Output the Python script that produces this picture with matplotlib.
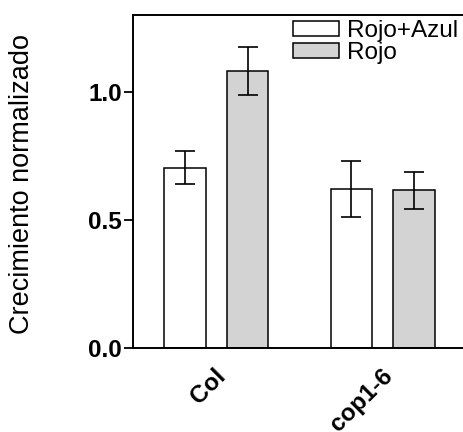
import numpy as np
import matplotlib
matplotlib.use('Agg')
import matplotlib.pyplot as plt
import matplotlib.transforms as mtransforms

plt.rcParams['font.family'] = ['Liberation Sans', 'DejaVu Sans']

#data
genotypes = ['Col', 'cop1-6']
series = ['Rojo+Azul', 'Rojo']
rojo_azul = [0.705, 0.620]
rojo_azul_err = [0.066, 0.110]
rojo = [1.083, 0.616]
rojo_err = [0.095, 0.073]
colors = ['white', '#d3d3d3']

fig = plt.figure(figsize=(4.64, 4.32), dpi=100)
#axes runs slightly past the right edge, as in the original crop
ax = fig.add_axes([133.3/464, 1-348/432, (465.7-133.3)/464, (348-15.3)/432])

x = np.arange(len(genotypes))
w = 0.25
off = 0.1875
ekw = dict(elinewidth=1.2, capthick=1.2, ecolor='black')
ax.bar(x-off, rojo_azul, w, yerr=rojo_azul_err, capsize=7.5, color=colors[0],
       edgecolor='black', linewidth=1.1, error_kw=ekw, label=series[0])
ax.bar(x+off, rojo, w, yerr=rojo_err, capsize=7.5, color=colors[1],
       edgecolor='black', linewidth=1.1, error_kw=ekw, label=series[1])

ax.set_xlim(-0.5, 1.5)
ax.set_ylim(0, 1.3)
ax.set_yticks([0.0, 0.5, 1.0])
ax.set_yticklabels(['0.0', '0.5', '1.0'], fontsize=17.5, fontweight='bold')
ax.tick_params(axis='y', length=6.5, width=1.3, pad=1.5)
ax.tick_params(axis='x', length=0, pad=12)
ax.set_xticks(x)
ax.set_xticklabels(genotypes, fontsize=17.5, fontweight='bold',
                   rotation=45, ha='right', va='top', rotation_mode='anchor')
shift = mtransforms.ScaledTranslation(-2/100, 0, fig.dpi_scale_trans)
for lab in ax.get_xticklabels():
    lab.set_transform(lab.get_transform() + shift)

for s in ['left', 'bottom', 'top']:
    ax.spines[s].set_linewidth(1.4)
ax.spines['right'].set_visible(False)

fig.text(22/464, 1-184/432, 'Crecimiento normalizado', rotation=90,
         fontsize=19.5, ha='center', va='center')

ax.legend(loc='upper left', bbox_to_anchor=(292.7/464, 1-20/432),
          bbox_transform=fig.transFigure, frameon=False, fontsize=17.5,
          handlelength=1.9, handleheight=0.55, handletextpad=0.33,
          labelspacing=0.0, borderpad=0, borderaxespad=0)

plt.savefig('out.png', dpi=100)
